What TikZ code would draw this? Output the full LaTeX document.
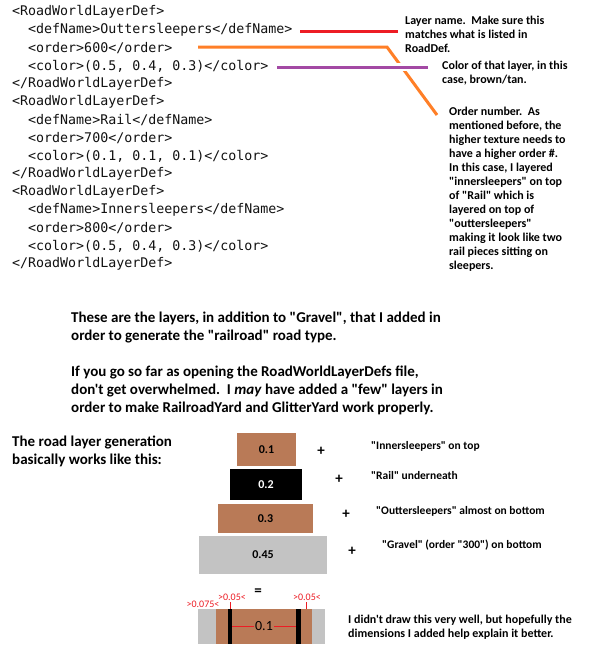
\documentclass[tikz,border=0pt]{standalone}
\usepackage{fontspec}
\setmainfont{Carlito}[Ligatures=TeXOff]
\newfontfamily\codefont{DejaVu Sans Mono}[Ligatures=TeXOff]
\definecolor{lineRed}{HTML}{ED1C24}
\definecolor{lineOrange}{HTML}{FF7F27}
\definecolor{linePurple}{HTML}{A349A4}
\definecolor{tan}{HTML}{B97A57}
\definecolor{gravel}{HTML}{C3C3C3}
\definecolor{codeInk}{HTML}{111111}
\tikzset{
  code/.style={anchor=west,inner sep=0pt,text=codeInk,font=\codefont\fontsize{13.3}{16}\selectfont},
  note/.style={anchor=north west,inner sep=0pt,align=left,font=\bfseries\fontsize{12}{14}\selectfont},
  para/.style={anchor=north west,inner sep=0pt,align=left,font=\bfseries\fontsize{15}{18}\selectfont},
  layer/.style={inner sep=0pt,font=\bfseries\fontsize{12}{14}\selectfont},
  plus/.style={inner sep=0pt,font=\bfseries\fontsize{15}{16}\selectfont},
  lbl/.style={anchor=west,inner sep=0pt,font=\bfseries\fontsize{11.5}{14}\selectfont},
  dim/.style={inner sep=0pt,text=lineRed,font=\fontsize{10}{10}\selectfont},
  conn/.style={line width=3pt},
}
\begin{document}
\begin{tikzpicture}[x=1pt,y=-1pt]
\useasboundingbox (0,0) rectangle (601,654);
\fill[white] (0,0) rectangle (601,654);
% code listing
\node[code] (c1) at (12,12) {<RoadWorldLayerDef>};
\node[code] (c2) at (28,30) {<defName>Outtersleepers</defName>};
\node[code] (c3) at (28,48) {<order>600</order>};
\node[code] (c4) at (28,66) {<color>(0.5, 0.4, 0.3)</color>};
\node[code] (c5) at (12,84) {</RoadWorldLayerDef>};
\node[code] (c6) at (12,102) {<RoadWorldLayerDef>};
\node[code] (c7) at (28,120) {<defName>Rail</defName>};
\node[code] (c8) at (28,138) {<order>700</order>};
\node[code] (c9) at (28,156) {<color>(0.1, 0.1, 0.1)</color>};
\node[code] (c10) at (12,174) {</RoadWorldLayerDef>};
\node[code] (c11) at (12,192) {<RoadWorldLayerDef>};
\node[code] (c12) at (28,210) {<defName>Innersleepers</defName>};
\node[code] (c13) at (28,228) {<order>800</order>};
\node[code] (c14) at (28,246) {<color>(0.5, 0.4, 0.3)</color>};
\node[code] (c15) at (12,264) {</RoadWorldLayerDef>};
% annotations
\node[note] (nName) at (405,16) {Layer name.\ \ Make sure this\\matches what is listed in\\RoadDef.};
\node[note] (nColor) at (442,61) {Color of that layer, in this\\case, brown/tan.};
\node[note] (nOrder) at (449,107) {Order number.\ \ As\\mentioned before, the\\higher texture needs to\\have a higher order \#.\\In this case, I layered\\"innersleepers" on top\\of "Rail" which is\\layered on top of\\"outtersleepers"\\making it look like two\\rail pieces sitting on\\sleepers.};
% connectors
\coordinate (rA) at (300,31);
\coordinate (rB) at (398,31);
\draw[conn,lineRed] (rA) -- (rB);
\coordinate (oA) at (198,47);
\coordinate (oK) at (387,47);
\coordinate (oB) at (437,115);
\draw[conn,lineOrange] (oA) -- (oK) -- (oB);
\coordinate (pA) at (277,67);
\coordinate (pB) at (428,67);
\coordinate (pG1) at (392,67);
\coordinate (pG2) at (412,67);
\draw[line width=8pt,white] (pG1) -- (pG2);
\draw[conn,linePurple] (pA) -- (pB);
% paragraphs
\node[para] (p1) at (71,312) {These are the layers, in addition to "Gravel", that I added in\\order to generate the "railroad" road type.};
\node[para] (p2) at (71,366) {If you go so far as opening the RoadWorldLayerDefs file,\\don't get overwhelmed.\ \ I \textit{may} have added a "few" layers in\\order to make RailroadYard and GlitterYard work properly.};
\node[para] (p3) at (12,436) {The road layer generation\\basically works like this:};
% layer stack
\node[layer,fill=tan,minimum width=59pt,minimum height=33pt] (L1) at (266.5,449.5) {0.1};
\node[layer,fill=black,text=white,minimum width=72pt,minimum height=31pt] (L2) at (266,484.5) {0.2};
\node[layer,fill=tan,minimum width=95pt,minimum height=29pt] (L3) at (265.5,518.5) {0.3};
\node[layer,fill=gravel,minimum width=128pt,minimum height=38pt] (L4) at (263,555) {0.45};
\node[plus] (s1) at (321,451) {+};
\node[plus] (s2) at (339,479) {+};
\node[plus] (s3) at (346,514) {+};
\node[plus] (s4) at (352,551) {+};
\node[lbl] (t1) at (371,446) {"Innersleepers" on top};
\node[lbl] (t2) at (371,476) {"Rail" underneath};
\node[lbl] (t3) at (376,511) {"Outtersleepers" almost on bottom};
\node[lbl] (t4) at (382,545) {"Gravel" (order "300") on bottom};
% result
\node[plus] (eq) at (258,592) {=};
\fill[gravel] (198,609) rectangle (325,644);
\fill[tan] (216,609) rectangle (312,644);
\node[fill=black,inner sep=0pt,minimum width=4pt,minimum height=35pt] (barL) at (230,626.5) {};
\node[fill=black,inner sep=0pt,minimum width=5pt,minimum height=35pt] (barR) at (298.5,626.5) {};
\node[inner sep=1pt,font=\fontsize{14}{14}\selectfont] (w) at (264,626) {0.1};
\draw[lineRed,line width=1pt] (barL.east |- w.west) -- (w.west);
\draw[lineRed,line width=1pt] (w.east) -- (barR.west |- w.east);
\coordinate (k1) at (230,602);
\coordinate (k2) at (306,602);
\draw[lineRed,line width=1pt] (k1) -- (barL.north);
\draw[lineRed,line width=1pt] (k2) -- (k2 |- barL.north);
\node[dim] (d1) at (232,597) {>0.05<};
\node[dim] (d2) at (307,597) {>0.05<};
\node[dim] (d3) at (203,604) {>0.075<};
\node[note] (nDraw) at (348,615) {I didn't draw this very well, but hopefully the\\dimensions I added help explain it better.};
\end{tikzpicture}
\end{document}
